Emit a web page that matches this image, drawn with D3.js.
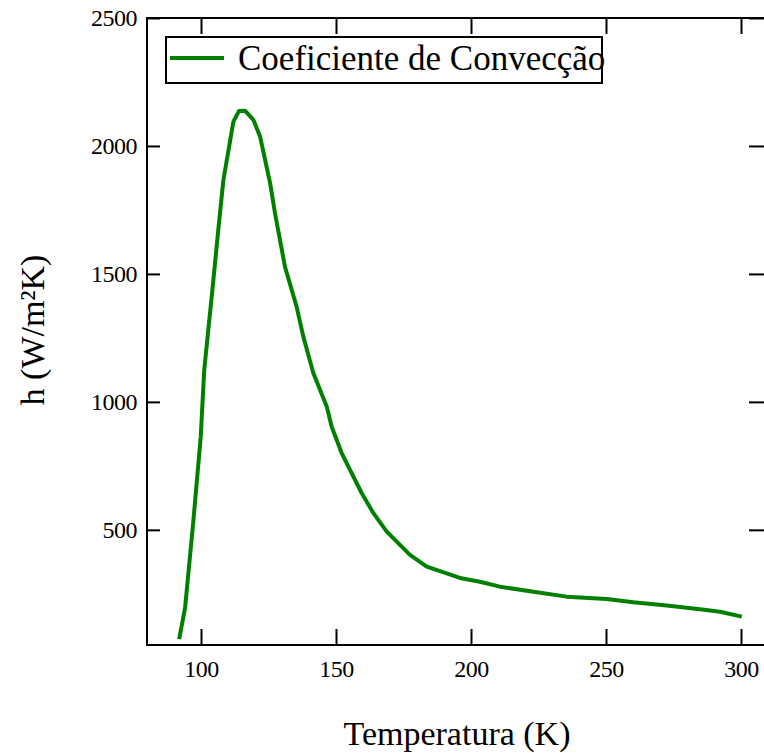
<!DOCTYPE html>
<html>
<head>
<meta charset="utf-8">
<script src="https://cdn.jsdelivr.net/npm/d3@7"></script>
<style>
  body { margin: 0; background: #fff; }
  text { font-family: "Liberation Serif", "Times New Roman", serif; fill: #000; }
</style>
</head>
<body>
<div class="chart"></div>
<script>
// temperature (K) and convection coefficient h (W/m²K)
var temps = [91.9, 94.1, 97.2, 99.9, 101.2, 102.7, 104.4, 106.4, 108.3, 112.0,
             114.1, 116.3, 119.4, 121.9, 125.6, 127.4, 131.1, 135.4, 137.9, 141.6,
             146.6, 148.4, 152.1, 155.8, 159.5, 163.8, 168.8, 173.7, 177.4, 183.6,
             195.9, 203.3, 210.7, 223.1, 235.4, 250.3, 260.1, 272.5, 284.8, 292.2, 300.3];
var hValues = [73, 195, 538, 863, 1125, 1281, 1457, 1672, 1867, 2095,
               2137, 2138, 2102, 2036, 1855, 1738, 1528, 1372, 1255, 1113,
               981, 903, 800, 722, 644, 566, 493, 441, 402, 356,
               312, 297, 278, 258, 239, 230, 217, 204, 190, 180, 161];
var xTicks = [100, 150, 200, 250, 300];
var yTicks = [500, 1000, 1500, 2000, 2500];
var seriesName = "Coeficiente de Convecção";

var width = 764, height = 753;
var plot = { left: 147, right: 768, top: 18, bottom: 645 };

var svg = d3.select(".chart").append("svg")
    .attr("width", width)
    .attr("height", height);

var x = d3.scaleLinear().domain([80, 310]).range([plot.left, plot.right]);
var y = d3.scaleLinear().domain([50, 2500]).range([plot.bottom, plot.top]);
var fmt = d3.format("d");

// frame
svg.append("rect")
    .attr("x", plot.left).attr("y", plot.top)
    .attr("width", plot.right - plot.left).attr("height", plot.bottom - plot.top)
    .attr("fill", "none").attr("stroke", "#000").attr("stroke-width", 2);

// bottom axis, ticks pointing inward
var xAxis = svg.append("g")
    .attr("transform", "translate(0," + plot.bottom + ")")
    .call(d3.axisBottom(x).tickValues(xTicks).tickFormat(fmt).tickSizeInner(-16).tickSizeOuter(0).tickPadding(15));
xAxis.select(".domain").remove();
xAxis.selectAll("line").attr("stroke-width", 2);
xAxis.selectAll("text").style("font-size", "24px").style("letter-spacing", "-0.5px")
    .attr("font-family", null);

// top mirror ticks
var xTop = svg.append("g")
    .attr("transform", "translate(0," + plot.top + ")")
    .call(d3.axisTop(x).tickValues(xTicks).tickSizeInner(-16).tickSizeOuter(0).tickFormat(""));
xTop.select(".domain").remove();
xTop.selectAll("line").attr("stroke-width", 2);

// left axis
var yAxis = svg.append("g")
    .attr("transform", "translate(" + plot.left + ",0)")
    .call(d3.axisLeft(y).tickValues(yTicks).tickFormat(fmt).tickSizeInner(-13).tickSizeOuter(0).tickPadding(10));
yAxis.select(".domain").remove();
yAxis.selectAll("line").attr("stroke-width", 2);
yAxis.selectAll("text").style("font-size", "24px").style("letter-spacing", "-0.5px")
    .attr("font-family", null);

// right mirror ticks
var yRight = svg.append("g")
    .attr("transform", "translate(" + plot.right + ",0)")
    .call(d3.axisRight(y).tickValues(yTicks).tickSizeInner(-19).tickSizeOuter(0).tickFormat(""));
yRight.select(".domain").remove();
yRight.selectAll("line").attr("stroke-width", 2);

// the curve
var line = d3.line()
    .x(function(d, i) { return x(temps[i]); })
    .y(function(d) { return y(d); });

svg.append("path")
    .datum(hValues)
    .attr("d", line)
    .attr("fill", "none")
    .attr("stroke", "#008000")
    .attr("stroke-width", 4)
    .attr("stroke-linejoin", "round");

// legend
var legend = svg.append("g");
legend.append("rect")
    .attr("x", 166).attr("y", 37)
    .attr("width", 436).attr("height", 46)
    .attr("fill", "none").attr("stroke", "#000").attr("stroke-width", 2);
legend.append("line")
    .attr("x1", 170).attr("x2", 224)
    .attr("y1", 58).attr("y2", 58)
    .attr("stroke", "#008000").attr("stroke-width", 4);
legend.append("text")
    .attr("x", 238).attr("y", 70)
    .style("font-size", "35px")
    .text(seriesName);

// axis titles
svg.append("text")
    .attr("x", 457).attr("y", 745)
    .attr("text-anchor", "middle")
    .style("font-size", "34px")
    .text("Temperatura (K)");

svg.append("text")
    .attr("transform", "translate(44,330) rotate(-90)")
    .attr("text-anchor", "middle")
    .style("font-size", "34px")
    .text("h (W/m²K)");
</script>
</body>
</html>
